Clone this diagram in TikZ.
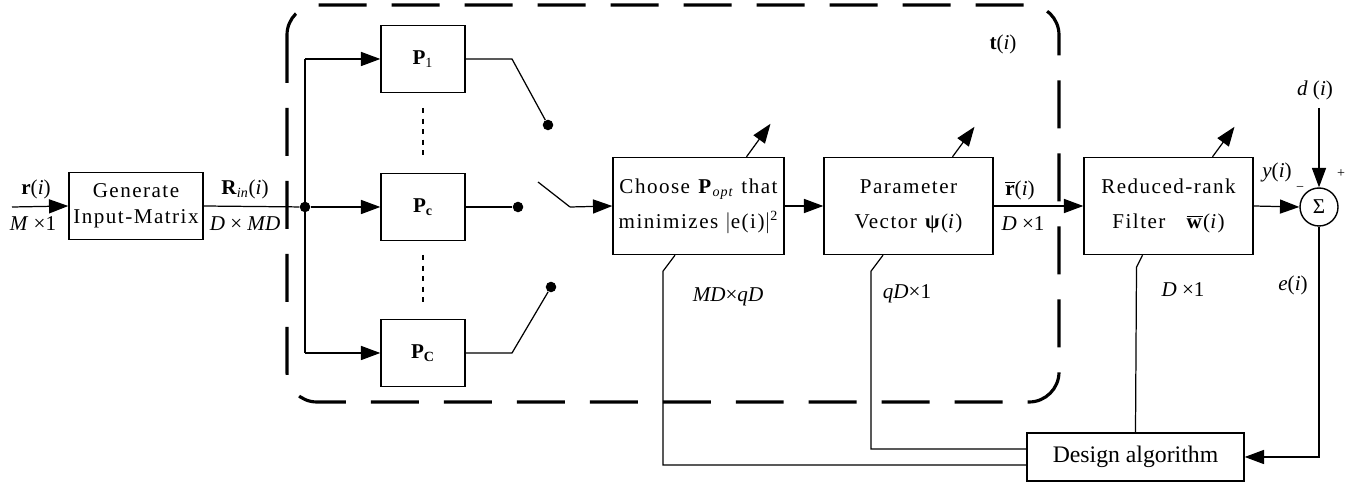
\documentclass[tikz,border=0pt]{standalone}
\usepackage{fontspec}
\setmainfont{Liberation Serif}
\newfontfamily\spc[LetterSpace=7]{Liberation Serif}
\usetikzlibrary{arrows.meta,calc}
\begin{document}
\begin{tikzpicture}[x=0.02cm,y=-0.02cm,
  every node/.style={font=\fontsize{12}{14}\selectfont},
  blk/.style={draw,line width=0.8pt,inner sep=0pt,align=center},
  ln/.style={line width=0.7pt},
  arr/.style={ln,-{Triangle[length=11pt,width=8pt]}},
  dot/.style={circle,fill,inner sep=0pt,minimum size=6pt},
  dashbox/.style={line width=1.8pt,dash pattern=on 0.96cm off 0.5cm,rounded corners=0.6cm},
  lab/.style={inner sep=0pt}]
\useasboundingbox (0,0) rectangle (1363,482);
% dashed enclosure
\draw[dashbox] (287,5) rectangle (1059,402);
% blocks
\node[blk,minimum width=2.68cm,minimum height=1.34cm,font=\spc\fontsize{12}{15}\selectfont] (gen) at (136,206)
  {Generate\\ Input-Matrix};
\node[blk,minimum width=1.68cm,minimum height=1.34cm] (P1) at (423,59) {\textbf{P}\textsubscript{1}};
\node[blk,minimum width=1.68cm,minimum height=1.34cm] (Pc) at (423,207) {\textbf{P}\textsubscript{\textbf{c}}};
\node[blk,minimum width=1.68cm,minimum height=1.34cm] (PC) at (423,353) {\textbf{P}\textsubscript{\textbf{C}}};
\node[blk,minimum width=3.42cm,minimum height=1.94cm,font=\spc\fontsize{12}{20}\selectfont] (choose) at (698.5,206)
  {Choose \textbf{P}\textsubscript{\textit{opt}} that\\ minimizes \(\bigl|\)e(i)\(\bigr|\)\textsuperscript{2}};
\node[blk,minimum width=3.38cm,minimum height=1.94cm,font=\spc\fontsize{12}{20}\selectfont] (param) at (908.5,206)
  {Parameter\\ Vector \textbf{ψ}(\textit{i})};
\node[blk,minimum width=3.38cm,minimum height=1.94cm,font=\spc\fontsize{12}{20}\selectfont] (red) at (1168.5,206)
  {Reduced-rank\\ Filter\quad \(\overline{\mbox{\textbf{w}}}\)(\textit{i})};
\node[draw,circle,line width=0.8pt,minimum size=0.76cm,inner sep=0pt] (sum) at (1319,207) {Σ};
\node[blk,minimum width=4.34cm,minimum height=0.96cm,font=\fontsize{13.5}{15}\selectfont] (design) at (1135.5,457)
  {Design algorithm};
% coordinates
\coordinate (in) at (12,207);
\node[dot] (j) at (305,207) {};
\node[dot] (s1) at (548,125) {};
\node[dot] (sc) at (518,207) {};
\node[dot] (s3) at (551,287) {};
\coordinate (k1) at (512,59);
\coordinate (k3) at (512,353);
\coordinate (sw0) at (538,182);
\coordinate (sw1) at (570,207);
\coordinate (dtop) at (1319,108);
% main path
\draw[arr] (in) -- (gen.west);
\draw[ln] (gen.east) -- (j);
\draw[arr] (j) -- (Pc.west);
\draw[ln] (j |- P1.west) -- (j |- PC.west);
\draw[arr] (j |- P1.west) -- (P1.west);
\draw[arr] (j |- PC.west) -- (PC.west);
\draw[ln] (P1.east) -- (k1) -- (s1);
\draw[ln] (Pc.east) -- (sc);
\draw[ln] (PC.east) -- (k3) -- (s3);
\draw[ln] (sw0) -- (sw1);
\draw[arr] (sw1) -- (choose.west);
\draw[ln,dashed] (423,108) -- (423,157);
\draw[ln,dashed] (423,255) -- (423,302);
\draw[arr] (choose.east) -- (param.west);
\draw[arr] (param.east) -- (red.west);
\draw[arr] (red.east) -- (sum.west);
\draw[arr] (dtop) -- (sum.north);
\draw[arr] (sum.south) |- (design.east);
% adaptive arrows
\draw[arr] ($(choose.north)+(48,0)$) -- ++(24,-33);
\draw[arr] ($(param.north)+(44,0)$) -- ++(22,-30);
\draw[arr] ($(red.north)+(44,0)$) -- ++(22,-30);
% feedback
\draw[ln] ($(choose.south)+(-23.5,0)$) -- ++(-12,16) |- ($(design.west)+(0,8)$);
\draw[ln] ($(param.south)+(-25.5,0)$) -- ++(-12,16) |- ($(design.west)+(0,-8)$);
\draw[ln] ($(red.south)+(-26,0)$) -- ++(-6,12) -- (design.north);
% labels
\node[lab] (lr) at (36,189) {\textbf{r}(\textit{i})};
\node[lab] (lM) at (33,224) {\textit{M} ×1};
\node[lab] (lR) at (245,189) {\textbf{R}\textsubscript{\textit{in}}(\textit{i})};
\node[lab] (lD) at (245,224) {\textit{D} × \textit{MD}};
\node[lab] (lt) at (1003,44) {\textbf{t}(\textit{i})};
\node[lab] (lrb) at (1020,190) {\(\overline{\mbox{\textbf{r}}}\)(\textit{i})};
\node[lab] (lD1) at (1023,224) {\textit{D} ×1};
\node[lab] (ly) at (1277,172) {\textit{y}(\textit{i})};
\node[lab] (lminus) at (1300,189) {\footnotesize −};
\node[lab] (lplus) at (1341,174) {\footnotesize +};
\node[lab] (ld) at (1315,90) {\textit{d} (\textit{i})};
\node[lab] (le) at (1293,285) {\textit{e}(\textit{i})};
\node[lab] (lMD) at (728,297) {\textit{MD}×\textit{qD}};
\node[lab] (lqD) at (907,294) {\textit{qD}×1};
\node[lab] (lD2) at (1183,290) {\textit{D} ×1};
\end{tikzpicture}
\end{document}
